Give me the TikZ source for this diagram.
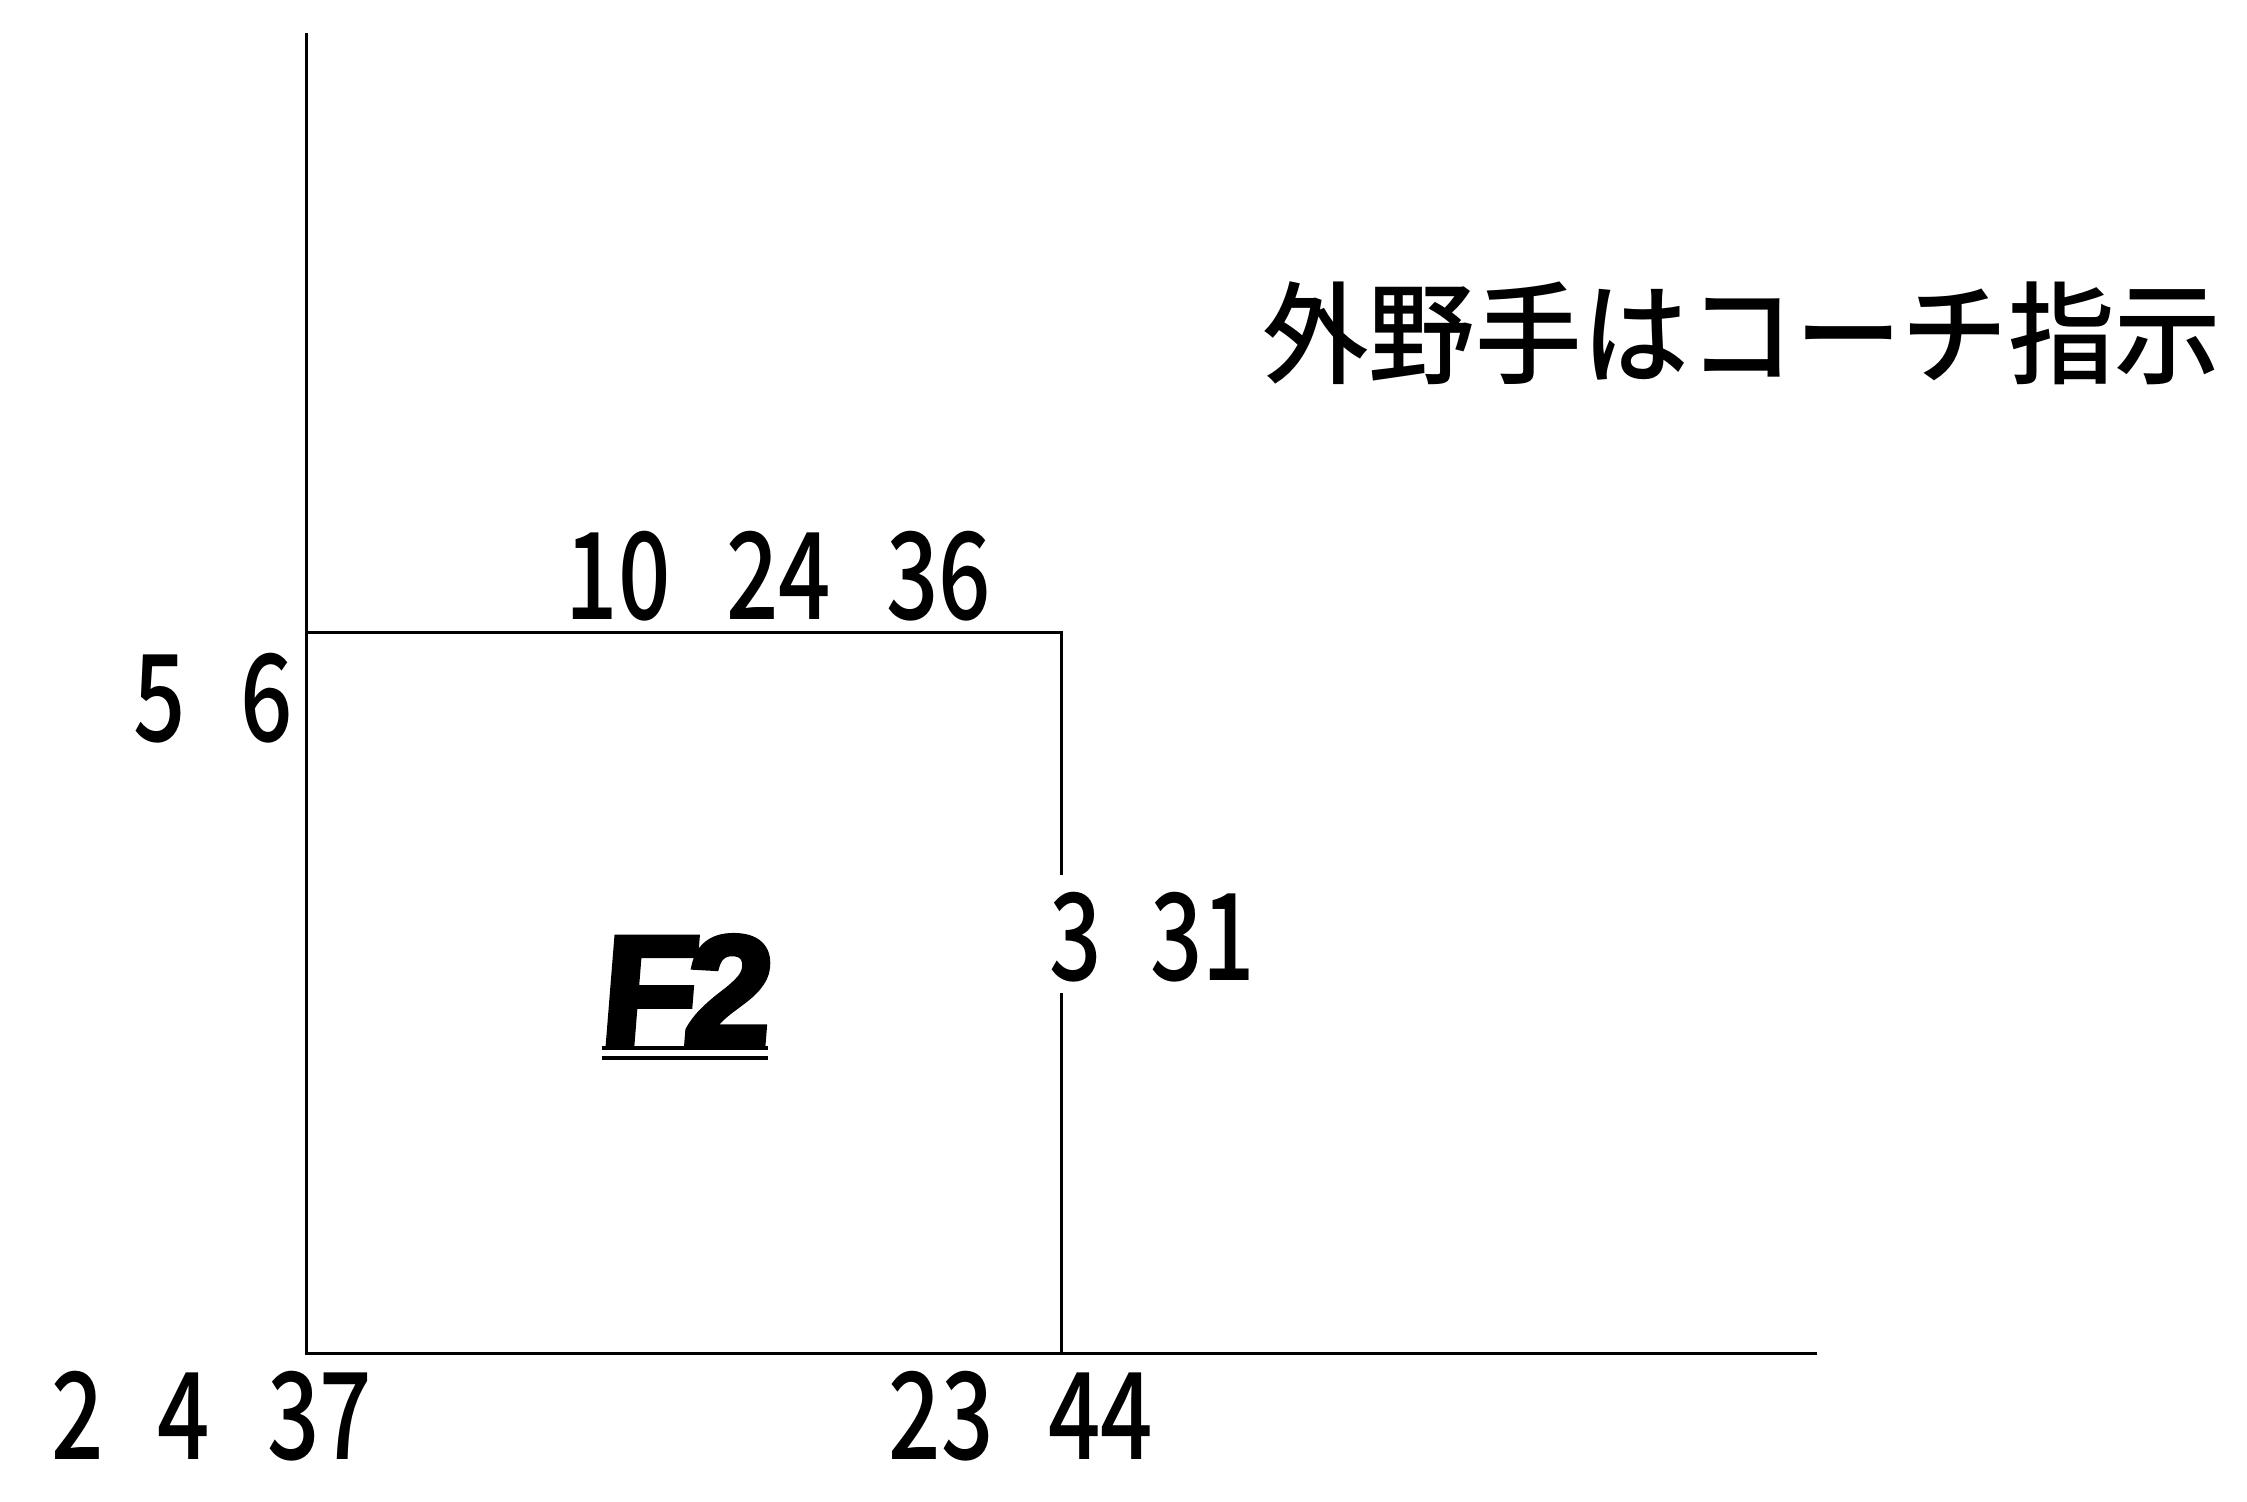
\documentclass[tikz,border=0pt]{standalone}
\usepackage{fontspec}
\newfontfamily\jpfont[FakeStretch=0.96]{Noto Sans CJK JP Medium}
\newfontfamily\numfont[FakeStretch=0.76]{Noto Sans CJK JP Medium}
\newfontfamily\efont[FakeBold=4,FakeSlant=0.08]{Liberation Sans Bold}
\begin{document}
\begin{tikzpicture}[x=0.5pt,y=-0.5pt,
  num/.style={inner sep=0pt,anchor=base,font=\numfont\fontsize{60.5pt}{60.5pt}\selectfont},
  axis/.style={line width=1.5pt},
  uline/.style={line width=2.2pt}]
\useasboundingbox (0,0) rectangle (2247,1502);
\fill[white] (0,0) rectangle (2247,1502);
% frame
\coordinate (top) at (306,33);
\coordinate (origin) at (306,1353);
\coordinate (xend) at (1817,1353);
\coordinate (boxtl) at (306,632);
\coordinate (boxtr) at (1061,632);
\coordinate (gapa) at (1061,875);
\coordinate (gapb) at (1061,993);
\coordinate (boxbr) at (1061,1353);
\draw[axis] (top) -- (origin) -- (xend);
\draw[axis] (boxtl) -- (boxtr) -- (gapa);
\draw[axis] (gapb) -- (boxbr);
% title
\node[inner sep=0pt,anchor=base west,font=\jpfont\fontsize{55.5pt}{55.5pt}\selectfont] (title) at (1262,376) {外野手はコーチ指示};
% numbers
\node[num] (n10) at (618,619) {10};
\node[num] (n24) at (778.5,619) {24};
\node[num] (n36) at (938.5,619) {36};
\node[num] (n5) at (159.5,741) {5};
\node[num] (n6) at (266.5,741) {6};
\node[num] (n3) at (1075.5,980) {3};
\node[num] (n31) at (1202.5,980) {31};
\node[num] (b2) at (78,1459) {2};
\node[num] (b4) at (184,1459) {4};
\node[num] (b37) at (319.5,1459) {37};
\node[num] (b23) at (941,1459) {23};
\node[num] (b44) at (1100.5,1459) {44};
% F2
\node[inner sep=0pt,anchor=base west,font=\efont\fontsize{78pt}{78pt}\selectfont] (f2) at (598,1045) {F\kern-6pt2};
\coordinate (ula) at (602,1048);
\coordinate (ulb) at (768,1048);
\coordinate (ulc) at (602,1058);
\coordinate (uld) at (768,1058);
\draw[uline] (ula) -- (ulb);
\draw[uline] (ulc) -- (uld);
\end{tikzpicture}
\end{document}
